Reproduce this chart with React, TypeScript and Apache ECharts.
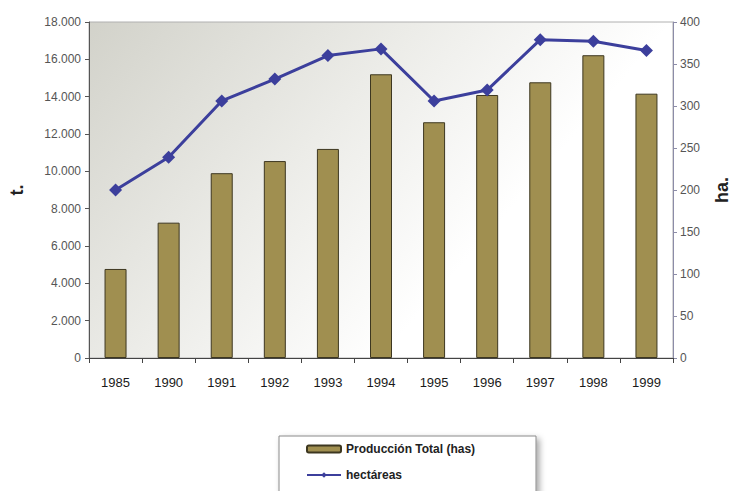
import React, { useEffect, useRef } from "react";
import * as echarts from "echarts";

const years = ["1985", "1990", "1991", "1992", "1993", "1994", "1995", "1996", "1997", "1998", "1999"];
const produccion = [4770, 7250, 9900, 10550, 11200, 15200, 12630, 14090, 14770, 16220, 14160];
const hectareas = [200, 239, 306, 332, 360, 368, 306, 319, 379, 377, 366];

const FONT = "'Liberation Sans', Arial, sans-serif";

export default function App() {
  const ref = useRef<HTMLDivElement>(null);
  useEffect(() => {
    const chart = echarts.init(ref.current!, null, { renderer: "svg" });
    chart.setOption({
      animation: false,
      backgroundColor: "#ffffff",
      textStyle: { fontFamily: FONT },
      grid: {
        left: 88,
        right: 61,
        top: 22,
        bottom: 133,
        show: true,
        borderColor: "#b0b0b0",
        borderWidth: 1,
        backgroundColor: new echarts.graphic.LinearGradient(0, 0, 1, 0.5, [
          { offset: 0, color: "#d2d2ca" },
          { offset: 0.45, color: "#ecece8" },
          { offset: 0.8, color: "#ffffff" },
          { offset: 1, color: "#ffffff" },
        ]),
      },
      graphic: [
        {
          type: "rect",
          z: 0,
          shape: { x: 279, y: 436, width: 257, height: 70 },
          style: {
            fill: "#ffffff",
            stroke: "#8a8a8a",
            lineWidth: 1,
            shadowColor: "rgba(0,0,0,0.35)",
            shadowBlur: 6,
            shadowOffsetX: 3,
            shadowOffsetY: 3,
          },
        },
      ],
      legend: {
        orient: "vertical",
        left: 306,
        top: 443,
        z: 10,
        padding: 0,
        itemGap: 14,
        itemWidth: 34,
        itemHeight: 7,
        textStyle: { fontFamily: FONT, fontSize: 12, fontWeight: "bold", color: "#222" },
        data: ["Producción Total (has)", "hectáreas"],
      },
      xAxis: {
        type: "category",
        data: years,
        axisLine: { lineStyle: { color: "#444", width: 1 } },
        axisTick: { show: true, length: 5, lineStyle: { color: "#444" } },
        axisLabel: { fontFamily: FONT, fontSize: 13, color: "#1a1a1a", margin: 18 },
      },
      yAxis: [
        {
          type: "value",
          min: 0,
          max: 18000,
          interval: 2000,
          name: "t.",
          nameLocation: "middle",
          nameGap: 63,
          nameRotate: 90,
          nameTextStyle: { fontFamily: FONT, fontSize: 18, fontWeight: "bold", color: "#222" },
          axisLine: { show: true, lineStyle: { color: "#555" } },
          axisTick: { show: true, length: 4, lineStyle: { color: "#555" } },
          splitLine: { show: false },
          axisLabel: {
            fontFamily: FONT,
            fontSize: 12,
            color: "#555",
            margin: 8,
            formatter: (v: number) => (v === 0 ? "0" : v.toLocaleString("de-DE")),
          },
        },
        {
          type: "value",
          min: 0,
          max: 400,
          interval: 50,
          name: "ha.",
          nameLocation: "middle",
          nameGap: 40,
          nameRotate: 90,
          nameTextStyle: { fontFamily: FONT, fontSize: 18, fontWeight: "bold", color: "#222" },
          axisLine: { show: true, lineStyle: { color: "#8c8ca8" } },
          axisTick: { show: true, length: 4, lineStyle: { color: "#8c8ca8" } },
          splitLine: { show: false },
          axisLabel: { fontFamily: FONT, fontSize: 12, color: "#555", margin: 7 },
        },
      ],
      series: [
        {
          name: "Producción Total (has)",
          type: "bar",
          data: produccion,
          barWidth: 22,
          yAxisIndex: 0,
          itemStyle: { color: "#a08f50", borderColor: "#3d3720", borderWidth: 1 },
        },
        {
          name: "hectáreas",
          type: "line",
          data: hectareas,
          yAxisIndex: 1,
          symbol: "diamond",
          symbolSize: 13,
          lineStyle: { color: "#3c3f9c", width: 3 },
          itemStyle: { color: "#3c3f9c" },
        },
      ],
    });
    return () => chart.dispose();
  }, []);
  return (
    <div
      ref={ref}
      style={{ position: "fixed", left: 0, top: 0, width: 739, height: 491 }}
    />
  );
}
